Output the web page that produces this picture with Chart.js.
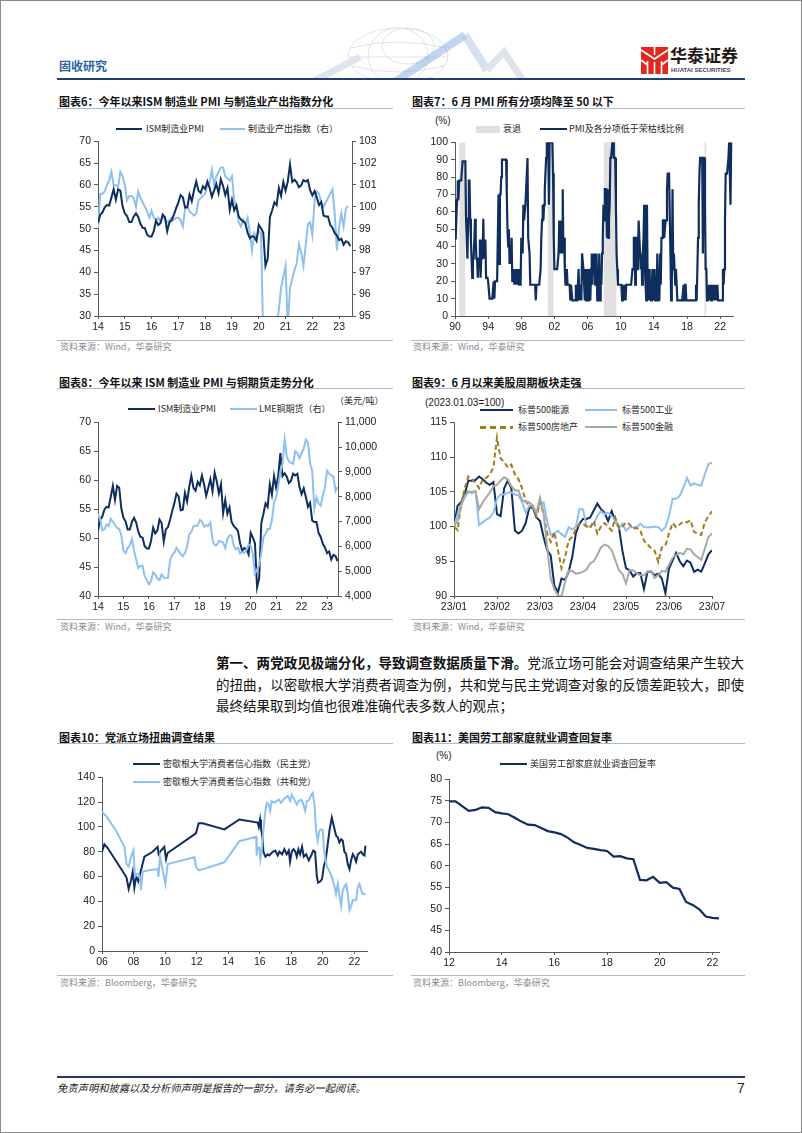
<!DOCTYPE html>
<html lang="zh-CN">
<head>
<meta charset="UTF-8">
<title>固收研究 · 图表6-11</title>
<script src="https://cdn.jsdelivr.net/npm/chart.js"></script>
<style>
  html, body { margin: 0; padding: 0; background: #fff; overflow: hidden; }
  #page { position: relative; width: 802px; height: 1133px; overflow: hidden; font-family: 'Noto Sans CJK SC', sans-serif; color: #1a1a1a; }
  #frame { position: absolute; left: 0; top: 0; width: 802px; height: 1133px; box-sizing: border-box; border: 1px solid #8a8a8a; pointer-events: none; }
  .t { position: absolute; white-space: nowrap; }
  .title { font-size: 11px; font-weight: bold; line-height: 14px; color: #111; }
  .rule { position: absolute; height: 1px; background: #a9b9cf; }
  .src { font-size: 9px; line-height: 12px; color: #8c8c8c; }
  .lg { font-size: 9px; line-height: 12px; color: #262626; }
  .sw { position: absolute; height: 0; border-top: 2.5px solid; }
  .unit { font-family: 'Liberation Sans', Arial, sans-serif; font-size: 10px; line-height: 12px; color: #1a1a1a; }
  canvas { position: absolute; }
  .para { position: absolute; left: 216px; width: 528px; font-size: 13.5px; line-height: 22px; color: #111; white-space: nowrap; text-align: justify; text-align-last: justify; }
  .para.last { text-align-last: left; }
</style>
</head>
<body>
<div id="page">

  <!-- 页眉 -->
  <svg class="t" style="left:290px;top:22px" width="240" height="58" viewBox="0 0 240 58">
    <g fill="none" stroke="#d6dbe2" stroke-width="0.8">
      <ellipse cx="108" cy="34" rx="50" ry="28"/>
      <ellipse cx="118" cy="24" rx="26" ry="18"/>
      <ellipse cx="108" cy="34" rx="30" ry="28"/>
      <path d="M60 26 Q108 14 156 26 M62 44 Q108 56 154 44 M58 35 H158"/>
    </g>
    <path d="M20 61 L70 35" stroke="#dde5ef" stroke-width="7" fill="none"/>
    <path d="M100 63 L175 13" stroke="#8fb3e0" stroke-width="8" fill="none" opacity="0.55"/>
    <path d="M175 13 L197 48" stroke="#b3c8e4" stroke-width="8" fill="none" opacity="0.55"/>
    <path d="M197 48 L214 30 L234 60" stroke="#e0e4ea" stroke-width="7" fill="none"/>
  </svg>
  <div class="t" style="left:59px;top:59px;font-size:12px;line-height:14px;font-weight:bold;color:#2b5fa8">固收研究</div>
  <svg class="t" style="left:641px;top:47px" width="27" height="27" viewBox="0 0 27 27">
    <rect width="27" height="27" fill="#e0281e"/>
    <path d="M0 3 L13.5 12 L27 3 M13.5 0 V8 M6.5 14 V27 M13.5 15 V27 M20.5 14 V27 M0 13 L6.5 18 M27 13 L20.5 18" stroke="#fff" stroke-width="1.6" fill="none"/>
  </svg>
  <div class="t" style="left:670px;top:45px;font-size:17px;line-height:19px;font-weight:bold;color:#231815">华泰证券</div>
  <div class="t" style="left:671px;top:66px;font:bold 6px/8px 'Liberation Sans', Arial, sans-serif;color:#444">HUATAI SECURITIES</div>
  <div class="rule" style="left:57px;top:78px;width:688px;height:2px;background:#213f73"></div>

  <!-- 第一行标题 -->
  <div class="t title" style="left:59px;top:93.5px">图表6：今年以来ISM 制造业 PMI 与制造业产出指数分化</div>
  <div class="rule" style="left:57px;top:107.5px;width:336px"></div>
  <div class="t title" style="left:412px;top:93.5px">图表7：6 月 PMI 所有分项均降至 50 以下</div>
  <div class="rule" style="left:411px;top:107.5px;width:334px"></div>

  <!-- 图表6 图例 -->
  <div class="sw" style="left:116px;top:128px;width:26px;border-color:#0f2e5e"></div>
  <div class="t lg" style="left:146px;top:123px">ISM制造业PMI</div>
  <div class="sw" style="left:220px;top:128px;width:25px;border-color:#8ec0f0"></div>
  <div class="t lg" style="left:248px;top:123px">制造业产出指数（右）</div>
  <canvas id="c6"></canvas>

  <!-- 图表7 图例 -->
  <div class="t unit" style="left:435px;top:115px">(%)</div>
  <div class="t" style="left:476px;top:125.5px;width:24px;height:7px;background:#e0e0e0"></div>
  <div class="t lg" style="left:503px;top:123px">衰退</div>
  <div class="sw" style="left:540px;top:128px;width:27px;border-color:#0f2e5e"></div>
  <div class="t lg" style="left:569px;top:123px">PMI及各分项低于荣枯线比例</div>
  <canvas id="c7"></canvas>

  <div class="rule" style="left:57px;top:339.5px;width:336px"></div>
  <div class="t src" style="left:60px;top:341px">资料来源：Wind，华泰研究</div>
  <div class="rule" style="left:411px;top:339.5px;width:334px"></div>
  <div class="t src" style="left:413px;top:341px">资料来源：Wind，华泰研究</div>

  <!-- 第二行标题 -->
  <div class="t title" style="left:59px;top:374.5px">图表8：今年以来 ISM 制造业 PMI 与铜期货走势分化</div>
  <div class="rule" style="left:57px;top:388px;width:336px"></div>
  <div class="t title" style="left:412px;top:374.5px">图表9：6 月以来美股周期板块走强</div>
  <div class="rule" style="left:411px;top:388px;width:334px"></div>

  <!-- 图表8 图例 -->
  <div class="sw" style="left:128px;top:408px;width:27px;border-color:#0f2e5e"></div>
  <div class="t lg" style="left:158px;top:403px">ISM制造业PMI</div>
  <div class="sw" style="left:230px;top:408px;width:27px;border-color:#8ec0f0"></div>
  <div class="t lg" style="left:259px;top:403px">LME铜期货（右）</div>
  <div class="t lg" style="left:335px;top:395px">（美元/吨）</div>
  <canvas id="c8"></canvas>

  <!-- 图表9 图例 -->
  <div class="t unit" style="left:425px;top:397px">(2023.01.03=100)</div>
  <div class="sw" style="left:480px;top:409px;width:33px;border-color:#0f2e5e"></div>
  <div class="t lg" style="left:518px;top:404px">标普500能源</div>
  <div class="sw" style="left:585px;top:409px;width:32px;border-color:#8ec0f0"></div>
  <div class="t lg" style="left:622px;top:404px">标普500工业</div>
  <div class="t" style="left:480px;top:426px;width:33px;height:2.5px;background:repeating-linear-gradient(90deg,#a17c1f 0 6px,transparent 6px 10px)"></div>
  <div class="t lg" style="left:518px;top:421px">标普500房地产</div>
  <div class="sw" style="left:585px;top:426px;width:32px;border-color:#a8a8a8"></div>
  <div class="t lg" style="left:622px;top:421px">标普500金融</div>
  <canvas id="c9"></canvas>

  <div class="rule" style="left:57px;top:619px;width:336px"></div>
  <div class="t src" style="left:60px;top:621px">资料来源：Wind，华泰研究</div>
  <div class="rule" style="left:411px;top:619px;width:334px"></div>
  <div class="t src" style="left:413px;top:621px">资料来源：Wind，华泰研究</div>

  <!-- 正文 -->
  <div class="para" style="top:651px"><b>第一、两党政见极端分化，导致调查数据质量下滑。</b>党派立场可能会对调查结果产生较大</div>
  <div class="para" style="top:673px">的扭曲，以密歇根大学消费者调查为例，共和党与民主党调查对象的反馈差距较大，即使</div>
  <div class="para last" style="top:694px">最终结果取到均值也很难准确代表多数人的观点；</div>

  <!-- 第三行标题 -->
  <div class="t title" style="left:59px;top:729.5px">图表10：党派立场扭曲调查结果</div>
  <div class="rule" style="left:57px;top:743px;width:336px"></div>
  <div class="t title" style="left:412px;top:729.5px">图表11：美国劳工部家庭就业调查回复率</div>
  <div class="rule" style="left:411px;top:743px;width:334px"></div>

  <!-- 图表10 图例 -->
  <div class="sw" style="left:133px;top:763px;width:27px;border-color:#0f2e5e"></div>
  <div class="t lg" style="left:163px;top:758px">密歇根大学消费者信心指数（民主党）</div>
  <div class="sw" style="left:133px;top:781px;width:27px;border-color:#8ec0f0"></div>
  <div class="t lg" style="left:163px;top:776px">密歇根大学消费者信心指数（共和党）</div>
  <canvas id="c10"></canvas>

  <!-- 图表11 图例 -->
  <div class="t unit" style="left:436px;top:750px">(%)</div>
  <div class="sw" style="left:500px;top:763px;width:27px;border-color:#0f2e5e"></div>
  <div class="t lg" style="left:530px;top:758px">美国劳工部家庭就业调查回复率</div>
  <canvas id="c11"></canvas>

  <div class="rule" style="left:57px;top:975px;width:336px"></div>
  <div class="t src" style="left:60px;top:977px">资料来源：Bloomberg，华泰研究</div>
  <div class="rule" style="left:411px;top:975px;width:334px"></div>
  <div class="t src" style="left:413px;top:977px">资料来源：Bloomberg，华泰研究</div>

  <!-- 页脚 -->
  <div class="rule" style="left:57px;top:1076px;width:688px;height:2px;background:#1f3a68"></div>
  <div class="t" style="left:57px;top:1082px;font-size:10.3px;line-height:12px;font-style:italic;color:#222">免责声明和披露以及分析师声明是报告的一部分，请务必一起阅读。</div>
  <div class="t" style="left:737px;top:1080px;font:14px/16px 'Liberation Sans', Arial, sans-serif;color:#222">7</div>

  <div id="frame"></div>
</div>

<script>
  // ===== 图表6 / 图表8：ISM 制造业 PMI（月度，2014-01 起）=====
  const ismStart = 2014;
  const ismPmi = [
    51.3, 53.2, 53.7, 54.9, 55.4, 55.3, 57.1, 59.0, 56.6, 59.0, 58.7, 55.1,
    53.5, 52.9, 51.5, 51.5, 52.8, 53.5, 52.7, 51.1, 50.2, 50.1, 48.6, 48.2,
    48.2, 49.5, 51.8, 50.8, 51.3, 53.2, 52.6, 49.4, 51.5, 51.9, 53.2, 54.7,
    56.0, 57.7, 57.2, 54.8, 54.9, 57.8, 56.3, 58.8, 60.8, 58.7, 58.2, 59.7,
    59.1, 60.8, 59.3, 57.3, 58.7, 60.2, 58.1, 61.3, 59.8, 57.7, 59.3, 54.3,
    56.6, 54.2, 55.3, 52.8, 52.1, 51.7, 51.2, 49.1, 47.8, 48.3, 48.1, 47.2,
    50.9, 50.1, 49.1, 41.5, 43.1, 52.6, 54.2, 56.0, 55.4, 59.3, 57.5, 60.7,
    58.7, 60.8, 64.7, 60.7, 61.2, 60.6, 59.5, 59.9, 61.1, 60.8, 61.1, 58.8,
    57.6, 58.6, 57.1, 55.4, 56.1, 53.0, 52.8, 52.8, 50.9, 50.2, 49.0, 48.4,
    47.4, 47.7, 46.3, 47.1, 46.9, 46.0
  ];
  // 制造业产出指数（右轴），2014-01 起
  const mfgOutput = [
    99.0, 100.6, 100.6, 100.7, 101.0, 101.2, 101.6, 101.0, 101.0, 100.9, 101.6, 101.4,
    101.0, 100.3, 100.5, 100.5, 100.4, 100.0, 100.7, 100.4, 100.2, 100.0, 99.8, 99.5,
    99.8, 99.5, 99.4, 99.5, 99.3, 99.6, 99.4, 99.3, 99.4, 99.5, 99.4, 99.5,
    99.5, 99.4, 99.1, 99.9, 100.0, 99.8, 99.7, 99.6, 99.7, 100.3, 100.4, 100.5,
    100.6, 101.0, 101.1, 101.7, 101.0, 101.4, 101.6, 101.8, 101.8, 101.4, 101.3, 101.2,
    101.4, 100.3, 100.0, 99.3, 99.1, 99.4, 99.2, 99.5, 98.8, 98.0, 98.8, 98.6,
    98.9, 98.8, 94.0, 80.0, 84.0, 89.0, 92.0, 93.5, 94.5, 95.3, 96.3, 96.8,
    97.3, 94.5, 96.3, 96.7, 97.1, 97.4, 98.3, 97.9, 97.3, 98.2, 99.2, 99.3,
    98.7, 100.3, 100.7, 100.6, 100.2, 100.0, 100.2, 100.4, 100.6, 100.8, 99.7, 98.0,
    99.1, 99.7, 99.1, 99.9, 100.05
  ];
  // LME 铜期货（美元/吨，右轴），2014-01 起
  const lmeCopper = [
    7300, 7100, 6650, 6680, 6880, 6820, 7110, 7000, 6870, 6740, 6710, 6450,
    5830, 5730, 5940, 6040, 6300, 5830, 5460, 5130, 5220, 5220, 4800, 4640,
    4470, 4600, 4950, 4870, 4700, 4640, 4870, 4750, 4720, 4730, 5450, 5660,
    5750, 5940, 5820, 5690, 5600, 5720, 5990, 6480, 6580, 6810, 6830, 6840,
    7070, 7000, 6800, 6850, 6830, 6960, 6250, 6050, 6050, 6220, 6200, 6150,
    5930, 6300, 6450, 6440, 6030, 5880, 5940, 5710, 5760, 5740, 5860, 6080,
    6030, 5690, 4900, 5060, 5240, 5750, 6370, 6500, 6700, 6700, 7060, 7750,
    7970, 8460, 9000, 9330, 10300, 9600, 9440, 9370, 9320, 9830, 9760, 9550,
    9770, 9940, 10300, 10180, 9360, 9030, 7530, 7980, 7740, 7640, 8050, 8380,
    9050, 8930, 8860, 8810, 8230, 8390
  ];
  const ismTicks = [2014, 2015, 2016, 2017, 2018, 2019, 2020, 2021, 2022, 2023];

  // ===== 图表7：PMI 及各分项低于荣枯线比例（%，月度，1990-01 起）=====
  const shareStart = 1990;
  const pmiBelow50 = [
    67, 44, 56, 67, 78, 67, 78, 78, 78, 78, 78, 89,
    89, 89, 89, 89, 56, 56, 33, 56, 78, 78, 56, 44,
    33, 22, 33, 33, 44, 56, 44, 33, 33, 22, 33, 33,
    44, 22, 33, 44, 33, 56, 33, 33, 44, 22, 22, 22,
    20, 20, 10, 10, 10, 10, 10, 10, 20, 10, 20, 20,
    20, 20, 20, 70, 30, 70, 70, 80, 90, 90, 90, 90,
    90, 90, 90, 70, 50, 40, 50, 30, 40, 30, 45, 20,
    20, 27, 18, 27, 18, 27, 18, 18, 27, 18, 18, 18,
    45, 45, 36, 64, 55, 55, 64, 73, 73, 91, 45, 45,
    36, 18, 18, 18, 18, 18, 18, 18, 18, 9, 18, 18,
    18, 18, 18, 18, 27, 45, 55, 64, 55, 64, 73, 82,
    91, 100, 100, 100, 64, 100, 100, 100, 100, 100, 82, 45,
    27, 27, 27, 27, 27, 27, 36, 55, 36, 55, 36, 45,
    73, 36, 45, 27, 18, 18, 27, 18, 18, 18, 18, 9,
    18, 18, 9, 9, 9, 9, 9, 18, 9, 9, 9, 27,
    9, 9, 18, 9, 36, 36, 27, 18, 9, 27, 9, 18,
    27, 9, 27, 18, 9, 27, 36, 18, 36, 27, 36, 18,
    27, 36, 9, 27, 18, 36, 9, 27, 18, 36, 45, 64,
    55, 73, 73, 73, 45, 73, 45, 55, 64, 91, 91, 91,
    100, 100, 91, 91, 91, 64, 36, 27, 18, 18, 18, 18,
    18, 18, 9, 18, 9, 18, 18, 9, 18, 18, 18, 18,
    18, 18, 18, 18, 18, 27, 27, 45, 45, 18, 45, 45,
    27, 36, 55, 45, 36, 27, 36, 18, 36, 45, 64, 27,
    18, 9, 64, 18, 9, 27, 9, 18, 9, 18, 27, 9,
    9, 27, 9, 18, 9, 36, 9, 27, 9, 36, 18, 45,
    45, 55, 55, 45, 45, 55, 55, 73, 82, 82, 82, 82,
    36, 9, 18, 73, 27, 36, 27, 18, 27, 18, 9, 9,
    9, 9, 9, 9, 9, 9, 9, 18, 9, 18, 18, 9,
    9, 9, 9, 9, 9, 9, 9, 9, 9, 9, 9, 9,
    9, 18, 9, 27, 45, 64, 82, 91, 91, 91, 91, 36,
    91, 91, 64, 27, 27, 9, 18, 9, 18, 9, 18, 9,
    18, 9, 18, 9, 18, 9, 18, 9, 18, 9, 9, 9,
    9, 9, 9, 9, 27, 18, 27, 55, 82, 82, 82, 82,
    91, 100, 100, 64, 100, 100
  ];
  // NBER 衰退期（起止月份）
  const recessions = [['1990-07', '1991-03'], ['2001-03', '2001-11'], ['2007-12', '2009-06'], ['2020-02', '2020-04']];
  const shareTicks = [1990, 1994, 1998, 2002, 2006, 2010, 2014, 2018, 2022];

  // ===== 图表9：标普500 行业指数（2023.01.03=100），每月 12 个观测点 =====
  const spxTicks = ['23/01', '23/02', '23/03', '23/04', '23/05', '23/06', '23/07'];
  const spxPerMonth = 12;
  const spxEnergy = [
    100, 103, 103.5, 104.7, 106.6, 106.6, 106.7, 107.2, 106.8, 106.3, 106.0, 106.4,
    101.8, 101.5, 105.5, 106.6, 105.5, 99.4, 99.0, 99.4, 100.5, 102.7, 102.7, 101.3,
    100.8, 98.5, 96.6, 95.8, 91.5, 90.5, 92.5, 92.3, 93.5, 95.6, 99.0, 100.4,
    101.1, 101.1, 101.3, 102.3, 103.3, 102.5, 102.0, 100.8, 102.2, 100.8, 100.0, 96.5,
    94.0, 93.7, 92.8, 93.3, 93.3, 91.0, 93.5, 93.5, 93.0, 93.2, 92.5, 90.4,
    94.0, 95.1, 96.2, 95.0, 94.3, 95.1, 94.8, 93.5, 93.8, 93.5, 94.7, 96.0,
    96.6
  ];
  const spxIndustrials = [
    100, 101.8, 103.2, 104.2, 104.9, 105.0, 105.1, 100.2, 100.6, 101.0, 101.3, 102.0,
    104.0, 104.6, 104.6, 104.9, 104.9, 104.6, 104.5, 103.5, 102.0, 103.0, 102.8, 101.8,
    103.2, 103.5, 100.8, 98.8, 99.0, 99.4, 98.9, 98.5, 99.9, 99.6, 99.9, 102.5,
    102.5, 100.0, 100.0, 100.4, 101.5, 102.2, 101.8, 102.0, 101.5, 100.9, 99.7, 100.4,
    99.4, 99.9, 99.9, 99.9, 100.4, 99.9, 99.9, 99.9, 100.0, 99.9, 99.4, 99.9,
    101.5, 104.0, 104.0, 104.4, 105.6, 107.0, 105.9, 106.2, 106.0, 105.9, 107.5, 109.0,
    109.2
  ];
  const spxRealEstate = [
    100, 99.5, 103.2, 105.5, 107.2, 106.8, 106.3, 105.5, 106.8, 107.0, 107.5, 108.5,
    112.8, 109.8, 109.3, 108.5, 108.9, 107.5, 106.8, 105.5, 103.7, 103.0, 102.8, 101.5,
    103.5, 101.8, 99.0, 97.8, 99.2, 96.6, 94.0, 95.6, 98.0, 98.5, 99.6, 100.4,
    100.4, 100.0, 99.8, 100.8, 99.0, 100.0, 100.5, 100.0, 99.4, 101.3, 99.8, 100.0,
    100.6, 100.3, 99.7, 99.8, 99.4, 98.0, 97.4, 96.9, 96.5, 94.9, 97.0, 97.3,
    99.0, 100.5, 99.9, 100.3, 100.7, 100.6, 100.9, 99.2, 99.0, 98.8, 100.6, 101.5,
    102.2
  ];
  const spxFinancials = [
    100, 100.8, 103.0, 104.4, 105.1, 104.8, 105.1, 102.5, 103.5, 104.2, 104.9, 105.8,
    106.0, 106.6, 107.1, 106.8, 105.8, 105.2, 105.2, 103.8, 103.5, 103.5, 103.0, 102.0,
    104.2, 102.0, 97.0, 92.5, 91.0, 90.1, 89.9, 92.0, 93.7, 93.6, 93.2, 93.3,
    93.5, 93.8, 94.7, 95.0, 95.9, 97.0, 97.4, 97.2, 96.6, 95.2, 93.7, 93.2,
    91.8, 93.7, 93.7, 93.3, 93.0, 93.0, 93.5, 93.6, 92.6, 93.0, 93.6, 93.5,
    94.5, 95.5, 95.9, 96.2, 96.0, 96.8, 96.7, 96.0, 95.6, 95.2, 96.8, 98.5,
    99.0
  ];

  // ===== 图表10：密歇根大学消费者信心指数（按党派）=====
  const demDates = [
    2006.00, 2006.15, 2006.36, 2007.42, 2007.56, 2007.69, 2007.84, 2007.95, 2008.05, 2008.16,
    2008.30, 2008.47, 2008.69, 2009.21, 2009.53, 2009.59, 2009.74, 2009.95, 2010.06, 2010.16,
    2011.86, 2011.96, 2012.13, 2012.38, 2013.76, 2014.71, 2015.87, 2015.94, 2016.02, 2016.08,
    2016.19, 2016.23, 2016.36, 2016.51, 2016.61, 2016.82, 2016.99, 2017.14, 2017.25, 2017.42,
    2017.56, 2017.71, 2017.84, 2017.92, 2018.03, 2018.14, 2018.26, 2018.35, 2018.45, 2018.56,
    2018.68, 2018.79, 2018.94, 2019.11, 2019.26, 2019.40, 2019.51, 2019.62, 2019.70, 2019.83,
    2019.95, 2020.06, 2020.17, 2020.27, 2020.42, 2020.57, 2020.67, 2020.84, 2020.95, 2021.05,
    2021.16, 2021.26, 2021.37, 2021.48, 2021.58, 2021.69, 2021.79, 2021.90, 2022.00, 2022.11,
    2022.22, 2022.32, 2022.43, 2022.53, 2022.64, 2022.70
  ];
  const demIndex = [
    80, 86, 83, 62, 59, 50, 57, 64, 51, 60,
    56, 65, 76, 80, 84, 78, 81, 84, 74, 79,
    94, 95, 103, 103, 98, 106, 103.5, 100, 106, 99,
    90, 80, 76, 78, 77, 80, 81, 77, 80, 78,
    82, 78, 81, 72, 80, 82, 80, 76, 82, 78,
    84, 76, 78, 73, 77, 81, 80, 60, 55, 56,
    58, 68, 73, 82, 97, 107.5, 102, 93, 91.5, 87.5,
    90, 89, 80, 78, 70, 66, 73, 78, 76, 72,
    78, 79, 80, 78, 77, 85
  ];
  const repDates = [
    2006.00, 2006.25, 2006.89, 2007.42, 2007.56, 2007.69, 2007.84, 2007.99, 2008.09, 2008.20,
    2008.33, 2008.43, 2008.47, 2008.58, 2009.00, 2009.53, 2009.57, 2009.68, 2009.85, 2010.02,
    2010.16, 2011.86, 2011.96, 2012.13, 2013.76, 2014.71, 2015.77, 2015.81, 2015.87, 2015.98,
    2016.04, 2016.15, 2016.23, 2016.36, 2016.44, 2016.57, 2016.66, 2016.76, 2016.93, 2017.08,
    2017.21, 2017.35, 2017.50, 2017.63, 2017.78, 2017.92, 2018.03, 2018.20, 2018.35, 2018.47,
    2018.62, 2018.73, 2018.88, 2019.00, 2019.15, 2019.26, 2019.36, 2019.47, 2019.57, 2019.68,
    2019.78, 2019.89, 2020.00, 2020.06, 2020.17, 2020.27, 2020.42, 2020.57, 2020.74, 2020.84,
    2020.95, 2021.05, 2021.16, 2021.26, 2021.37, 2021.48, 2021.58, 2021.69, 2021.79, 2021.90,
    2022.00, 2022.11, 2022.22, 2022.32, 2022.43, 2022.53, 2022.70
  ];
  const repIndex = [
    112, 109, 97, 84, 70, 68, 76, 81, 60, 62,
    62, 57, 49, 64, 65, 66, 60, 76, 65, 54,
    70, 75.5, 68, 65, 71.5, 88.5, 92, 77, 83.5, 83.5,
    74, 83.5, 97, 113, 119.5, 118, 113, 121, 119.5, 121,
    122, 119.5, 122, 123.5, 125, 121, 126, 122, 118, 121,
    122, 119.5, 113, 121, 122, 126, 127.5, 118, 97, 89,
    97, 98, 97, 84, 73, 68, 64, 60, 52, 46,
    54, 45, 36, 49, 52, 54, 46, 33, 36, 41,
    41, 41, 52, 54, 49, 46, 46
  ];
  const michTicks = [2006, 2008, 2010, 2012, 2014, 2016, 2018, 2020, 2022];

  // ===== 图表11：家庭就业调查回复率（%，季度，2012Q1 起）=====
  const cpsStart = 2012;
  const cpsRate = [
    74.9, 74.9, 73.8, 72.7, 72.9, 73.5, 73.4, 72.4, 72.1, 71.9, 71.1, 70.2,
    69.5, 69.4, 68.7, 68.0, 67.7, 67.3, 66.5, 65.4, 64.8, 64.1, 63.9, 63.6,
    63.4, 62.1, 62.2, 61.7, 61.5, 56.7, 56.6, 57.4, 56.0, 56.2, 54.9, 54.6,
    51.6, 50.9, 49.9, 48.2, 47.9, 47.8
  ];
  const cpsTicks = [2012, 2014, 2016, 2018, 2020, 2022];

  // ===== 样式 =====
  const NAVY = '#0f2e5e';
  const LIGHT = '#8ec0f0';
  const GOLD = '#a17c1f';
  const GREY = '#a8a8a8';
  const AXIS = '#595959';
  const TICK_FONT = { family: "'Liberation Sans', Arial, sans-serif", size: 10.5 };

  const ym = s => { const [y, m] = s.split('-').map(Number); return y + (m - 1) / 12; };
  const monthly = (start, values) => values.map((v, i) => ({ x: start + i / 12, y: v }));
  const paired = (xs, ys) => xs.map((x, i) => ({ x, y: ys[i] }));
  const twoDigits = v => String(v).slice(2);

  // 画布按绘图区定位：左轴 48px，右侧 46px，上 8px，x 轴 22px
  function place(id, plot) {
    const c = document.getElementById(id);
    const L = plot.l - 48, T = plot.t - 8;
    c.style.left = L + 'px';
    c.style.top = T + 'px';
    c.width = plot.r + 46 - L;
    c.height = plot.b + 22 - T;
    return c;
  }

  function xAxis(min, max, ticks, fmt) {
    return {
      type: 'linear', min, max,
      afterBuildTicks: s => { s.ticks = ticks.map(v => ({ value: v })); },
      afterFit: s => { s.height = 22; },
      grid: { drawOnChartArea: false, color: AXIS, tickLength: 3 },
      border: { color: AXIS },
      ticks: { font: TICK_FONT, color: '#1a1a1a', padding: 2, maxRotation: 0, autoSkip: false, callback: v => fmt(v) }
    };
  }

  function yAxis(min, max, step, position, fmt) {
    return {
      type: 'linear', position, min, max,
      afterFit: s => { s.width = position === 'left' ? 48 : 46; },
      grid: { drawOnChartArea: false, color: AXIS, tickLength: 4 },
      border: { color: AXIS },
      ticks: { stepSize: step, font: TICK_FONT, color: '#1a1a1a', padding: 3, autoSkip: false, callback: v => (fmt ? fmt(v) : v) }
    };
  }

  function line(data, color, yAxisID, extra) {
    return Object.assign({
      type: 'line', data, borderColor: color, backgroundColor: color,
      borderWidth: 2, pointRadius: 0, tension: 0, yAxisID
    }, extra || {});
  }

  function draw(id, plot, datasets, scales, hasRightAxis) {
    new Chart(place(id, plot), {
      type: 'line',
      data: { datasets },
      options: {
        responsive: false,
        animation: false,
        devicePixelRatio: 1,
        layout: { padding: { top: 8, right: hasRightAxis ? 0 : 46, left: 0, bottom: 0 } },
        plugins: { legend: { display: false }, tooltip: { enabled: false } },
        scales
      }
    });
  }

  // 图表6
  draw('c6', { l: 98, t: 140, r: 352, b: 316 }, [
    line(monthly(ismStart, ismPmi), NAVY, 'y'),
    line(monthly(ismStart, mfgOutput), LIGHT, 'y1')
  ], {
    x: xAxis(2014, 2023.48, ismTicks, twoDigits),
    y: yAxis(30, 70, 5, 'left'),
    y1: yAxis(95, 103, 1, 'right')
  }, true);

  // 图表7：衰退期用填充区域表示
  const recessionBands = recessions.flatMap(([s, e]) => {
    const a = ym(s), b = ym(e) + 1 / 12;
    return [{ x: a, y: 100 }, { x: b, y: 100 }, { x: b, y: null }];
  });
  draw('c7', { l: 455, t: 141, r: 733, b: 316 }, [
    line(monthly(shareStart, pmiBelow50), NAVY, 'y', { borderWidth: 2.2, order: 0 }),
    line(recessionBands, 'rgba(0,0,0,0)', 'y', { borderWidth: 0, backgroundColor: '#e0e0e0', fill: 'origin', spanGaps: false, order: 1 })
  ], {
    x: xAxis(1990, 2023.55, shareTicks, twoDigits),
    y: yAxis(0, 100, 10, 'left')
  }, false);

  // 图表8
  draw('c8', { l: 98, t: 421, r: 338, b: 596 }, [
    line(monthly(ismStart, lmeCopper), LIGHT, 'y1'),
    line(monthly(ismStart, ismPmi), NAVY, 'y')
  ], {
    x: xAxis(2014, 2023.43, ismTicks, twoDigits),
    y: yAxis(40, 70, 5, 'left'),
    y1: yAxis(4000, 11000, 1000, 'right', v => v.toLocaleString('en-US'))
  }, true);

  // 图表9
  const spx = values => values.map((v, i) => ({ x: i / spxPerMonth, y: v }));
  draw('c9', { l: 454, t: 421, r: 712, b: 596 }, [
    line(spx(spxFinancials), GREY, 'y'),
    line(spx(spxRealEstate), GOLD, 'y', { borderDash: [5, 3] }),
    line(spx(spxIndustrials), LIGHT, 'y'),
    line(spx(spxEnergy), NAVY, 'y')
  ], {
    x: xAxis(0, spxTicks.length - 1, spxTicks.map((_, i) => i), v => spxTicks[v]),
    y: yAxis(90, 115, 5, 'left')
  }, false);

  // 图表10
  draw('c10', { l: 102, t: 776, r: 367, b: 951 }, [
    line(paired(repDates, repIndex), LIGHT, 'y'),
    line(paired(demDates, demIndex), NAVY, 'y')
  ], {
    x: xAxis(2006, 2022.8, michTicks, twoDigits),
    y: yAxis(0, 140, 20, 'left')
  }, false);

  // 图表11
  draw('c11', { l: 449, t: 778, r: 719, b: 952 }, [
    line(cpsRate.map((v, i) => ({ x: cpsStart + i / 4, y: v })), NAVY, 'y', { borderWidth: 2.2 })
  ], {
    x: xAxis(2012, 2022.25, cpsTicks, twoDigits),
    y: yAxis(40, 80, 5, 'left')
  }, false);
</script>
</body>
</html>
